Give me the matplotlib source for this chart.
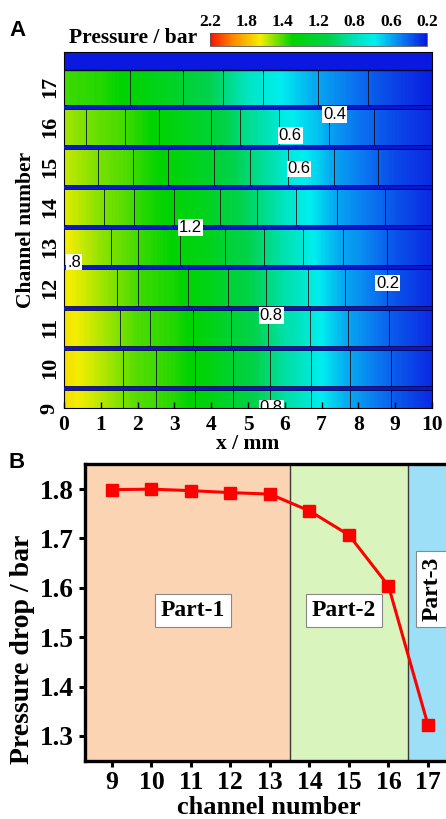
import numpy as np
import matplotlib
matplotlib.use("Agg")
import matplotlib.pyplot as plt
from matplotlib.colors import LinearSegmentedColormap, FuncNorm

# ---------------- data ----------------
# colour-scale labels (bar)
cbar_ticks = [2.2, 1.8, 1.4, 1.2, 0.8, 0.6, 0.2]

# pressure sampled along each channel every 1 mm (bar)
x_nodes = [0, 1, 2, 3, 4, 5, 6, 7, 8, 9, 10]
channels = [9, 10, 11, 12, 13, 14, 15, 16, 17]
p_ch9 = [1.70, 1.56, 1.41, 1.37, 1.30, 1.13, 0.86, 0.69, 0.56, 0.39, 0.25]
p_ch10 = [1.70, 1.56, 1.41, 1.37, 1.30, 1.13, 0.86, 0.69, 0.56, 0.39, 0.25]
p_ch11 = [1.69, 1.55, 1.40, 1.37, 1.29, 1.12, 0.85, 0.69, 0.55, 0.38, 0.25]
p_ch12 = [1.67, 1.53, 1.39, 1.36, 1.28, 1.10, 0.84, 0.68, 0.54, 0.37, 0.25]
p_ch13 = [1.66, 1.50, 1.39, 1.34, 1.27, 1.08, 0.82, 0.66, 0.54, 0.37, 0.25]
p_ch14 = [1.62, 1.48, 1.38, 1.33, 1.25, 1.03, 0.78, 0.65, 0.51, 0.37, 0.25]
p_ch15 = [1.58, 1.46, 1.38, 1.32, 1.22, 0.98, 0.75, 0.64, 0.49, 0.34, 0.25]
p_ch16 = [1.53, 1.43, 1.37, 1.30, 1.20, 0.91, 0.71, 0.62, 0.46, 0.34, 0.25]
p_ch17 = [1.39, 1.37, 1.32, 1.24, 1.06, 0.78, 0.68, 0.58, 0.44, 0.32, 0.22]
channel_pressure = [p_ch9, p_ch10, p_ch11, p_ch12, p_ch13, p_ch14, p_ch15, p_ch16, p_ch17]
header_pressure = 0.2

# isobar levels drawn inside the channels (bar)
isobar_levels = [0.41, 0.59, 0.74, 0.97, 1.20, 1.33, 1.39, 1.47]

# isobar labels: text, x (mm), channel position
isobar_text = ["0.4", "0.6", "0.6", "1.2", ".8", "0.2", "0.8", "0.8"]
isobar_x = [7.35, 6.15, 6.39, 3.44, 0.27, 8.8, 5.63, 5.63]
isobar_y = [16.3, 15.79, 14.95, 13.49, 12.63, 12.11, 11.3, 9.0]

# panel B
channel_number = [9, 10, 11, 12, 13, 14, 15, 16, 17]
pressure_drop = [1.799, 1.800, 1.797, 1.793, 1.790, 1.756, 1.707, 1.604, 1.322]
part_names = ["Part-1", "Part-2", "Part-3"]
part_edges = [8.32, 13.5, 16.5, 18.0]
part_colors = ["#fbd4b4", "#d9f4bc", "#9ddff6"]

# ---------------- styling ----------------
W, H = 446, 819
fig = plt.figure(figsize=(W / 100, H / 100), dpi=100)
serif = "Liberation Serif"
sans = "Liberation Sans"


def px_axes(l, t, r, b):
    return fig.add_axes([l / W, 1 - b / H, (r - l) / W, (b - t) / H])


# non-linear pressure colour scale (equal spacing between the labels)
scale_vals = sorted(cbar_ticks)
scale_pos = np.arange(len(scale_vals), dtype=float)
norm = FuncNorm((lambda v: np.interp(v, scale_vals, scale_pos),
                 lambda t: np.interp(t, scale_pos, scale_vals)),
                vmin=min(scale_vals), vmax=max(scale_vals))
cmap = LinearSegmentedColormap.from_list("pressure", [
    (0.00, "#0a18e0"), (0.12, "#0a80f2"), (0.24, "#00eef0"),
    (0.34, "#00e2b4"), (0.45, "#00d24a"), (0.62, "#00d400"),
    (0.69, "#70e000"), (0.77, "#f4ee00"), (0.90, "#ff8400"),
    (1.00, "#ff1000")])

# ---------------- panel A ----------------
axA = px_axes(64, 52, 432, 408)
y_top = 17.86
ch_top17 = 17.41
for ch, row in zip(channels, channel_pressure):
    lo, hi = ch - 0.5, (ch + 0.5 if ch < 17 else ch_top17)
    axA.imshow(np.array([row]), extent=(-0.5, 10.5, lo, hi), aspect="auto",
               cmap=cmap, norm=norm, interpolation="bilinear",
               interpolation_stage="data", origin="lower", zorder=1)
    axA.contour(x_nodes, [lo, hi], np.array([row, row]), levels=isobar_levels,
                colors="k", linewidths=0.55, zorder=2)
axA.axhspan(ch_top17, y_top, color=cmap(norm(header_pressure)), zorder=1, lw=0)
axA.axhline(ch_top17, color="#000030", lw=1.0, zorder=3)
for c in channels[:-1]:
    axA.axhline(c + 0.5, color="#000040", lw=3.4, zorder=3)
    axA.axhline(c + 0.5, color="#0a16c8", lw=2.2, zorder=4)

for t, x, y in zip(isobar_text, isobar_x, isobar_y):
    axA.text(x, y, t, family=sans, fontsize=12, ha="center", va="center",
             zorder=5, clip_on=True,
             bbox=dict(boxstyle="square,pad=0.05", fc="white", ec="none"))

axA.set_xlim(0, 10)
axA.set_ylim(9, y_top)
axA.set_xticks(range(0, 11))
axA.set_yticks(channels)
axA.tick_params(axis="x", direction="in", length=4, width=1, pad=5)
axA.tick_params(axis="y", length=0, pad=3)
for lab in axA.get_xticklabels():
    lab.set(family=serif, weight="bold", fontsize=15.5)
for lab in axA.get_yticklabels():
    lab.set(family=serif, weight="bold", fontsize=16, rotation=90, va="center")
for s in axA.spines.values():
    s.set_linewidth(0.8)
axA.set_xlabel("x / mm", family=serif, weight="bold", fontsize=15.5, labelpad=-1)
axA.set_ylabel("Channel number", family=serif, weight="bold", fontsize=15.5,
               labelpad=3)

# colour bar
cax = px_axes(210, 33, 427, 46)
sm = plt.cm.ScalarMappable(norm=norm, cmap=cmap)
cb = fig.colorbar(sm, cax=cax, orientation="horizontal")
cax.invert_xaxis()
cb.set_ticks(cbar_ticks)
cb.set_ticklabels([f"{v:.1f}" for v in cbar_ticks])
cax.xaxis.set_ticks_position("top")
cax.tick_params(length=0, pad=2)
for lab in cax.get_xticklabels():
    lab.set(family=serif, weight="bold", fontsize=12.5)
cb.outline.set_linewidth(0.6)
cb.outline.set_edgecolor("#555555")
fig.text(133 / W, 1 - 38 / H, "Pressure / bar", family=serif, weight="bold",
         fontsize=15.5, ha="center", va="center")
fig.text(9 / W, 1 - 31 / H, "A", family=sans, weight="bold", fontsize=16,
         ha="left", va="center")

# ---------------- panel B ----------------
axB = px_axes(85, 464, 467.5, 761)
for (a, b), c in zip(zip(part_edges[:-1], part_edges[1:]), part_colors):
    axB.axvspan(a, b, color=c, lw=0, zorder=0)
for e in part_edges[1:-1]:
    axB.axvline(e, color="#3a3a3a", lw=1.0, zorder=1)
axB.plot(channel_number, pressure_drop, color="#ff0000", lw=2.2, marker="s",
         markersize=8, zorder=3)
part_x = [11.05, 14.87, 17.1]
part_y = [1.554, 1.554, 1.597]
for name, x, y in zip(part_names, part_x, part_y):
    axB.text(x, y, name, family=serif, weight="bold", fontsize=17,
             ha="center", va="center", rotation=(90 if name == "Part-3" else 0),
             zorder=4,
             bbox=dict(boxstyle="square,pad=0.25", fc="white", ec="#888888",
                       lw=0.8))
axB.set_xlim(part_edges[0], part_edges[-1])
axB.set_ylim(1.249, 1.851)
axB.set_xticks(channel_number)
axB.set_yticks([1.3, 1.4, 1.5, 1.6, 1.7, 1.8])
axB.yaxis.set_major_formatter(plt.FormatStrFormatter("%.1f"))
axB.tick_params(direction="out", length=4, width=2.2, pad=4)
axB.tick_params(axis="x", pad=3)
for lab in axB.get_yticklabels():
    lab.set(family=serif, weight="bold", fontsize=19.5)
for lab in axB.get_xticklabels():
    lab.set(family=serif, weight="bold", fontsize=18.5)
for s in axB.spines.values():
    s.set_linewidth(2.4)
fig.text(269 / W, 1 - 808 / H, "channel number", family=serif, weight="bold",
         fontsize=19, ha="center", va="center")
axB.set_ylabel("Pressure drop / bar", family=serif, weight="bold", fontsize=20)
axB.yaxis.set_label_coords(-0.13, 0.377)
fig.text(9 / W, 1 - 463 / H, "B", family=sans, weight="bold", fontsize=16,
         ha="left", va="center")

fig.savefig("out.png", dpi=100)
